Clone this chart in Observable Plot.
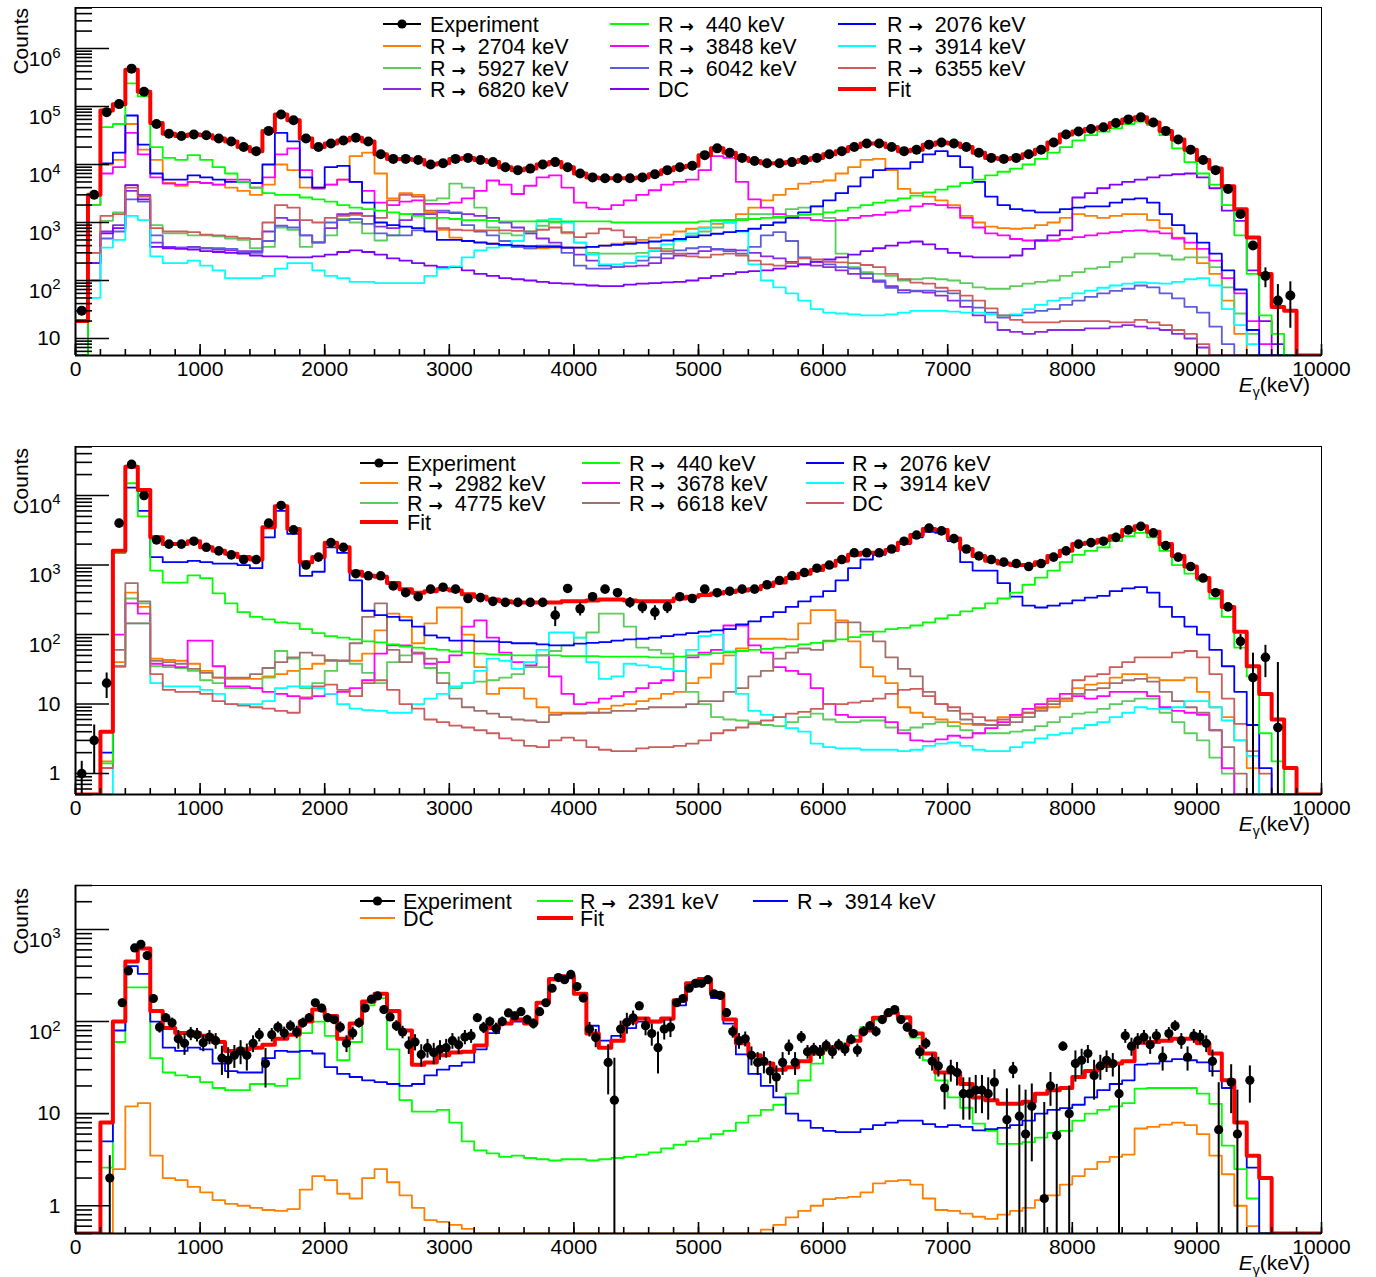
<!DOCTYPE html>
<html><head><meta charset="utf-8">
<script src="https://cdn.jsdelivr.net/npm/d3@7"></script>
<script src="https://cdn.jsdelivr.net/npm/@observablehq/plot@0.6"></script>
<style>
body{margin:0;background:#fff;font-family:"Liberation Sans",Arial,sans-serif;}
#chart svg{display:block}
</style></head><body><div id="chart"></div>
<script>
// ===== DATA (100 keV bins from 0 to 10000 keV unless stated) =====
// ---------- Panel 1 ----------
const p1Exp = [30,3000,80000,110000,450000,180000,50000,34000,31000,33000,
32000,28000,25000,20000,17000,38000,73000,58000,28000,20000,
23000,26000,29000,25000,15000,12500,12500,12000,10000,10500,
12500,13000,12000,11000,9000,8000,8500,10000,11000,9000,
7000,6000,5800,5800,5800,6000,6800,8000,9000,9500,
14500,19000,16000,13000,11500,10500,10500,11000,12000,13000,
15000,17000,20000,23000,23000,20000,17000,18000,22000,24000,
23000,20000,16000,13000,12500,13000,15000,18000,24000,33000,
37000,41000,44000,52000,60000,65000,53000,38000,27000,18000,
12000,8000,3800,1400,400,120,45,55,0,0];
const p1Err = [0,0,0,0,0,0,0,0,0,0, 0,0,0,0,0,0,0,0,0,0, 0,0,0,0,0,0,0,0,0,0, 0,0,0,0,0,0,0,0,0,0,
0,0,0,0,0,0,0,0,0,0, 0,0,0,0,0,0,0,0,0,0, 0,0,0,0,0,0,0,0,0,0, 0,0,0,0,0,0,0,0,0,0,
0,0,0,0,0,0,0,0,0,0, 0,0,0,0,0,45,40,40,0,0];
const p1Fit = [20,3000,85000,110000,430000,180000,52000,34000,31000,33000,
32000,28000,25000,20000,17000,38000,73000,58000,28000,20000,
23000,26000,29000,25000,15000,12500,12500,12000,10000,10500,
12500,13000,12000,11000,9000,8000,8500,10000,11000,9000,
7000,6000,5800,5800,5800,6000,6800,8000,9000,9500,
14500,19000,16000,13000,11500,10500,10500,11000,12000,13000,
15000,17000,20000,23000,23000,20000,17000,18000,22000,24000,
23000,20000,16000,13000,12500,13000,15000,18000,24000,33000,
37000,41000,44000,52000,60000,65000,53000,38000,27000,18000,
12000,8500,4200,1700,550,130,35,30,0,0];
const p1R440 = [0,2000,44000,50000,250000,150000,20000,13000,12000,14500,
12000,9000,7000,5000,4000,3200,3000,3000,2700,2500,
2300,2000,1800,1700,1600,1500,1400,1300,1200,1200,
1150,1100,1100,1070,1050,1050,1050,1050,1050,1050,
1050,1050,1050,1000,1000,1000,1000,1000,1000,1000,
1050,1100,1100,1100,1150,1200,1250,1300,1350,1400,
1500,1600,1800,2000,2200,2400,2600,2900,3300,3700,
4200,4800,5500,6500,7500,8500,10000,12500,16000,20000,
26000,32000,37000,42000,50000,55000,48000,32000,19000,11000,
7000,4500,2000,600,130,25,12,0,0,0];
const p1R2076 = [0,3000,10500,16000,70000,22000,7000,5500,5500,6500,
6000,5500,5000,5000,4800,10000,35000,25000,6000,4000,
9000,9500,5000,2200,1000,900,850,800,700,500,
500,480,450,430,410,400,390,380,380,370,
370,380,400,410,430,450,470,490,520,560,
600,640,680,720,780,900,1000,1200,1500,1900,
2400,3200,4200,6000,8000,8500,8500,11000,15000,17000,
14000,9000,5000,2800,2000,1700,1600,1500,1500,1700,
1800,1900,1900,2200,2500,2600,2200,1400,900,650,
450,290,150,70,14,0,0,0,0,0];
const p1R2704 = [0,3000,10000,12000,50000,18000,12000,4800,4300,5000,
4800,4500,4000,3500,3000,4500,10000,8000,4000,3800,
4500,5500,14000,16000,7000,2600,3200,3000,1500,750,
550,480,460,430,400,380,360,360,370,370,
370,380,400,430,460,500,550,620,700,780,
820,950,1100,1400,1800,2400,3000,3800,4700,5000,
5300,7000,9000,12000,12500,8000,3800,3200,2800,2400,
2000,1300,1000,850,800,780,800,900,1000,1200,
1400,1300,1200,1300,1400,1400,1100,800,550,350,
200,130,45,12,0,0,0,0,0,0];
const p1R3848 = [0,2000,7000,9000,35000,15000,6000,4700,4500,5000,
4800,4500,5500,5500,4000,6000,15000,19000,8000,4000,
4500,5500,5000,3500,2200,2000,2300,2400,2100,2100,
2200,2600,3500,5300,4500,3100,4300,6000,6500,4000,
2200,1800,1700,2000,2400,3000,3600,4500,5000,5500,
8000,14000,13000,5000,2500,1800,1400,1300,1200,1100,
1070,1100,1200,1300,1350,1500,1600,1900,2100,2000,
1800,1200,820,650,600,520,490,490,490,520,
560,600,650,680,720,730,700,650,530,450,
350,220,110,60,20,8,0,0,0,0];
const p1R3914 = [0,50,370,500,1300,1100,260,200,200,220,
180,150,110,110,110,120,160,200,200,150,
120,110,95,95,90,90,90,90,120,160,
175,250,330,370,400,480,700,1100,1150,1000,
450,280,190,190,200,260,330,420,500,650,
800,1050,1000,700,190,100,76,60,45,32,
28,27,26,25,25,26,28,30,30,30,
29,28,28,26,25,26,32,38,45,50,
60,67,75,82,88,93,90,88,95,105,
110,82,32,17,8,0,0,0,0,0];
const p1R5927 = [0,300,1070,1500,4400,3000,900,650,650,600,
600,580,530,500,360,380,820,750,380,450,
600,1150,1000,650,490,600,1400,1400,2400,2600,
4700,4000,1800,820,650,600,650,880,1000,650,
450,300,290,290,290,300,320,350,490,600,
700,820,1000,1150,1400,1400,1200,1700,1800,1900,
1200,290,170,140,130,120,100,105,110,105,
100,90,76,72,72,80,88,95,100,120,
140,160,170,210,250,290,290,270,230,250,
250,170,76,27,12,0,0,0,0,0];
const p1R6042 = [0,100,530,700,2500,2300,600,370,370,370,
360,360,350,310,300,480,880,820,600,460,
1000,1100,1150,950,650,600,600,730,1200,1600,
1500,900,700,600,480,380,360,400,400,300,
180,160,160,170,200,220,250,290,330,360,
380,350,320,290,380,600,680,480,250,210,
190,170,160,130,100,75,62,67,67,65,
60,45,34,28,23,25,28,30,32,38,
45,52,60,66,72,82,76,60,49,35,
28,16,8,0,0,0,0,0,0,0];
const p1R6355 = [0,300,1300,1400,4000,2800,800,700,700,680,
620,600,570,540,520,1000,2000,1800,1100,1000,
1200,1300,1350,1300,1200,2400,3000,2800,1600,800,
750,730,730,730,730,720,700,750,820,680,
560,650,780,730,560,450,360,320,290,260,
250,280,290,270,220,190,180,200,240,230,
210,205,200,185,170,130,105,92,88,75,
67,55,45,33,25,21,19,19,19,20,
20,20,20,19,19,21,19,17,14,12,
8,0,0,0,0,0,0,0,0,0];
const p1R6820 = [0,200,700,900,3500,3000,450,380,370,380,
360,340,330,320,320,700,1200,1100,600,450,
800,1400,1450,1300,850,800,1100,1400,1400,1500,
1450,1400,1300,1200,1000,820,650,530,450,370,
280,220,180,170,175,180,200,240,270,290,
320,340,340,330,300,260,240,210,190,180,
170,150,130,110,95,80,68,65,62,55,
45,35,25,19,14,13,12,13,14,14,
14,15,15,16,17,16,15,14,12,10,
7,0,0,0,0,0,0,0,0,0];
const p1DC = [0,200,650,800,4400,2500,380,360,350,340,
320,310,300,290,270,260,260,250,250,260,
280,310,330,310,280,240,220,200,180,170,
170,150,130,120,110,105,100,95,90,88,
85,82,80,80,85,88,90,93,95,100,
110,120,130,140,145,150,160,175,190,210,
230,250,280,320,360,400,450,470,420,350,
300,260,250,250,250,270,350,490,600,730,
2700,3200,3900,4500,5000,5500,6000,6500,6800,7000,
6000,3900,1600,1070,150,20,8,0,0,0];

// ---------- Panel 2 ----------
const p2Exp = [1,3,20,4000,28000,10000,2300,2000,2000,2200,
1800,1600,1400,1200,1200,4000,7200,3200,1000,1300,
2100,1800,750,700,700,500,400,350,450,480,
450,330,340,300,290,290,290,290,190,460,
235,350,450,400,290,250,210,250,350,330,
450,400,420,450,450,520,600,700,780,900,
1000,1200,1500,1500,1500,1700,2200,2700,3400,3100,
2400,1700,1350,1200,1100,1050,950,1050,1300,1600,
2000,2100,2200,2500,3200,3600,2900,1900,1300,950,
650,400,250,80,24,47,4.6,0,0,0];
const p2Err = [0.5,2,8,0,0,0,0,0,0,0, 0,0,0,0,0,0,0,0,0,0, 0,0,0,0,0,0,0,0,0,0,
0,0,0,0,0,0,0,40,60,60, 50,50,60,60,50,50,50,50,40,0,
0,0,0,0,0,0,0,0,0,0, 0,0,0,0,0,0,0,0,0,0, 0,0,0,0,0,0,0,0,0,0,
0,0,0,0,0,0,0,0,0,0, 0,0,0,20,30,23,35,0,0,0];
const p2Fit = [0,0,4,1600,26000,12000,2500,2000,2000,2200,
1800,1600,1450,1300,1200,3500,7000,3300,1100,1300,
2100,1800,800,700,680,550,450,400,420,450,
430,380,350,320,300,290,290,290,290,300,
300,310,320,320,310,300,300,300,330,350,
370,390,410,430,450,500,560,650,750,850,
980,1150,1400,1500,1500,1650,2100,2700,3300,3200,
2400,1700,1350,1150,1050,1000,1000,1100,1350,1600,
2000,2100,2300,2600,3200,3600,3000,2000,1350,950,
650,420,250,110,35,14,6,1.2,0,0];
const p2R440 = [0,0,1.4,1500,15000,5000,830,560,560,710,
650,390,280,210,180,165,150,145,120,105,
95,90,85,80,77,72,67,65,62,60,
57,55,53,52,51,50,50,50,50,49,
49,49,48,48,48,48,47,47,48,50,
52,54,56,58,60,62,65,68,72,76,
80,85,92,100,110,120,125,135,150,170,
190,215,240,280,330,400,520,660,830,1100,
1400,1600,1800,2200,2600,2900,2500,1600,1000,750,
600,330,180,65,25,3.8,1.5,0,0,0];
const p2R2076 = [0,0,2,1500,13000,6000,1300,1100,1100,1150,
1100,1050,1050,1000,900,2500,6000,2800,700,800,
1800,1500,600,220,190,180,160,130,97,90,
82,82,80,80,78,75,75,72,70,70,
74,76,78,82,85,87,90,95,100,105,
110,115,120,140,155,180,210,250,300,350,
420,600,900,1200,1400,1600,2000,2500,3000,2900,
2200,1100,830,830,550,350,260,245,260,280,
310,340,360,420,460,480,400,250,180,130,
100,60,35,15,5,1.2,0,0,0,0];
const p2R2982 = [0,0,1.5,40,400,250,45,43,42,38,
30,24,23,23,23,25,27,30,32,38,
43,42,42,53,115,200,180,75,145,245,
245,100,34,14,17,17,12,9,7.5,7.5,
7.5,7.5,8.5,9.5,10,11,12,14,15,20,
24,38,50,63,87,87,87,85,145,225,
225,160,80,34,25,20,9,7.5,6.5,6,
5.5,5.2,5,5,6.5,7,7.5,8.5,9,11,
17,19,20,24,27,27,24,22,22,24,
15,9,6.5,3,1.2,0,0,0,0,0];
const p2R3678 = [0,0,1.2,100,280,200,38,36,34,82,
82,35,18,18,17,15,14,13,12,13,
14,15,17,22,53,70,70,53,38,40,
50,130,160,90,55,40,36,50,25,14,
10,10.5,12,13,15,17,20,22,30,47,
55,60,135,135,70,55,34,30,27,17,
10,7,6.5,6.5,6.5,5.5,3.8,3,2.9,3.1,
3.5,3.3,3.8,4.5,5.5,7,8.5,10,12,14,
13,12,13,15,15,15,13,9,8,7.5,
7,4.2,1.2,0,0,0,0,0,0,0];
const p2R3914 = [0,0,0,34,145,145,20,18,18,18,
16,14,10,10,10,11,17,18,18,17,
14,10,8.6,8.2,8,7.5,7.5,10,12,14,
18,20,30,45,42,32,40,60,107,107,
90,40,23,25,38,36,34,32,30,60,
95,100,57,14,8,7,6.5,4.5,4,2.7,
2.4,2.3,2.3,2.2,2.2,2.2,2.1,2.2,2.5,2.7,
2.8,2.5,2.2,2.1,2.1,2.4,2.8,3.2,3.6,3.8,
4.5,5,5.5,6.5,7.5,9,8.5,8.5,9,11,
11,9,5.8,3,1.8,0,0,0,0,0];
const p2R4775 = [0,0,1.2,35,330,280,35,34,33,30,
22,20,17,17,17,24,58,45,17,20,
30,42,38,28,20,40,50,55,33,28,
17,20,21,22,24,27,34,34,58,70,
90,107,200,200,130,65,60,53,30,15,
10,6.5,6,5.8,5.5,5,4.8,5.5,6.5,7.3,
6,5.5,5.5,5.8,5.8,4.6,4.2,4.6,5.2,5.5,
4.8,4.2,3.8,3.8,3.8,4,4.2,4.8,5.5,6.5,
7.3,7.6,8.5,10,11,12,12,7.5,5.5,3.8,
3,1.7,1,0,0,0,0,0,0,0];
const p2R6618 = [0,0,1.2,60,550,300,42,40,38,32,
28,24,24,24,27,33,40,47,55,50,
42,42,75,180,280,60,40,55,45,20,
12,9,8,7.3,6.5,6,5.8,5.5,7,7.3,
7.3,7.5,7.5,8,8,8.5,9,9,9,10,
11,11,15,17,25,30,45,55,63,60,
82,150,150,110,80,47,32,25,15,10,
8,6,5.2,5,5,5.5,6.5,8,10,12,
14,16,17,20,22,23,21,15,11,9,
7.5,4.2,2.4,1,0,0,0,0,0,0];
const p2DC = [0,0,1.2,35,145,145,27,16,15,15,
14,11,10,9.5,9,8.6,8,7.5,12.5,18,
19,16,13,20,22,16,10,8.6,6,5.5,
4.9,4.6,4.2,3.8,3.2,3,2.5,2.4,3,3.3,
3,2.4,2.2,2.1,2.1,2.3,2.4,2.4,2.5,2.7,
3,3.8,4.2,4.6,5.2,5.8,6.5,7.3,7.7,8.5,
10,10,10.5,11,12,14,16,16.5,13,10,
9,7.3,6.5,5.8,6,6.5,7.5,9,11,12,
22,25,27,34,40,47,47,47,55,58,
47,27,12,5.2,2.1,1,0,0,0,0];

// ---------- Panel 3 ----------
// experiment: 50 keV bins
const p3Exp = [0,0,0,0,0,2,0,160,355,630,
690,520,178,87,110,97,65,58,74,72,
59,68,62,40,38,43,48,43,58,72,
35,72,87,75,90,77,97,110,160,140,
110,105,87,58,75,97,140,175,190,135,
112,90,77,56,60,44,52,46,50,52,
62,56,68,70,110,86,100,84,100,124,
115,128,105,95,128,160,230,300,285,325,
240,180,83,67,0,36,14,83,98,110,
148,90,74,52,83,87,160,178,230,260,
260,285,200,192,125,78,62,65,43,36,
37,29,25,36,53,36,68,47,50,47,
55,47,56,50,64,49,78,90,78,105,
125,135,105,87,74,47,58,37,33,19,
30,28,16.5,16.5,18,18,16.5,22,0,8.6,
30,9.4,6,12,0,1.2,20,5.8,54,10,
35,38,45,26,33,38,35,16.5,70,54,
62,68,56,70,41,74,90,62,41,70,
68,58,37,6.7,0,22,6,0,23];
const p3Err = [0,0,0,0,0,1.5,0,15,20,25,
25,25,15,12,12,12,15,15,12,12,
12,12,12,14,14,12,14,14,12,12,
16,12,12,12,12,12,12,12,14,14,
12,12,12,12,12,12,14,14,14,14,
12,12,12,12,12,12,12,12,12,12,
12,12,12,12,12,12,12,12,12,12,
12,12,12,12,12,14,15,15,15,15,
15,15,15,15,0,20,26,18,25,20,
15,20,20,25,20,20,15,15,15,15,
15,15,15,15,12,12,12,12,10,10,
10,8,8,10,10,10,10,8,8,8,
8,8,8,8,8,8,10,10,10,10,
10,10,10,10,8,8,8,8,8,8,
8,8,8,8,8,8,8,8,0,10,
6,11,12,9,0,12,8,15,6,10,
13,12,10,12,10,10,10,17,12,12,
12,12,12,12,12,12,12,12,12,12,
12,12,12,15,0,12,12,0,10];
const p3Fit = [0,0,8,100,450,620,130,85,75,75,
70,60,48,50,52,56,65,72,100,135,
115,65,95,165,200,130,80,34,36,43,
46,47,55,85,95,105,95,160,290,310,
200,74,52,62,98,108,100,108,170,260,
290,200,105,58,43,35,30,32,37,45,
52,55,62,80,110,125,110,74,45,28,
28,21,15,14,12.8,12.8,13.5,16.5,18,19,
25,29,33,35,37,59,60,62,65,65,
58,45,23,8,3.5,2,0,0,0,0];
const p3R2391 = [0,0,2.6,60,235,235,40,28,26,25,
22,19,18,18,21,21,20,24,75,100,
70,38,60,150,180,50,14,10.5,10.5,11,
8,5,4,3.7,3.4,3.5,3.3,3.2,3.1,3.2,
3.2,3.1,3.2,3.3,3.4,3.6,3.8,4.2,4.6,5,
5.4,6,6.5,8,9.5,11,12.5,16.5,23,35,
48,58,70,87,103,122,115,67,38,23,
15,11.6,7.8,6.5,4.7,4.7,4.9,5.5,6.2,6.5,
8.4,10,11,12,13,18.7,19,19,19,19,
16.5,12.8,4.5,2.5,1.2,0,0,0,0,0];
const p3R3914 = [0,0,5,80,400,330,100,52,48,52,
50,35,29,28,28,40,48,47,48,45,
32,27,25,23,22,21,20,21,26,30,
33,36,50,75,95,100,97,160,280,295,
200,90,62,70,85,100,98,105,150,240,
280,180,95,44,27,20,15,10,8.4,7,
6.5,6.3,6.3,6.8,7.5,8,8.4,8.4,7.7,7.2,
7.5,7.2,6.6,6.8,7,7.5,8.4,10,11,11.5,
12.5,15,18,21,23,34,35,37,39,38,
36,29,19,8,2.6,0,0,0,0,0];
const p3DC = [0,0,0,2.5,12,13,3.5,2,1.9,1.6,
1.4,1.15,1.05,1,0.95,0.9,0.88,0.92,1.5,2.1,
1.9,1.35,1.2,2,2.5,1.8,1.3,0.95,0.7,0.67,
0.62,0.56,0.5,0,0,0,0,0,0,0,
0,0,0,0,0,0,0,0,0,0,
0,0,0,0,0.5,0.55,0.62,0.75,0.88,1,
1.18,1.22,1.25,1.4,1.75,1.85,1.9,1.7,1.2,0.9,
0.88,0.82,0.76,0.72,0.8,0.88,0.95,1.15,1.3,1.7,
2.1,2.5,3,3.4,3.6,6.9,7.2,7.6,8,7.5,
6,3.5,2.2,1,0.6,0,0,0,0,0];

// ---------- legends / labels ----------
const ARROW = "R \u2192 ";
const p1Legend = ["Experiment", ARROW+"440 keV", ARROW+"2076 keV", ARROW+"2704 keV", ARROW+"3848 keV", ARROW+"3914 keV",
  ARROW+"5927 keV", ARROW+"6042 keV", ARROW+"6355 keV", ARROW+"6820 keV", "DC", "Fit"];
const p2Legend = ["Experiment", ARROW+"440 keV", ARROW+"2076 keV", ARROW+"2982 keV", ARROW+"3678 keV", ARROW+"3914 keV",
  ARROW+"4775 keV", ARROW+"6618 keV", "DC", "Fit"];
const p3Legend = ["Experiment", ARROW+"2391 keV", ARROW+"3914 keV", "DC", "Fit"];
const xTicks = [0,1000,2000,3000,4000,5000,6000,7000,8000,9000,10000];

// ===== DRAWING =====
const C = {orange:"#ff7f00", lgreen:"#5ccc5c", purple:"#8a2be2", green:"#00ff00", magenta:"#ff00ff",
  slate:"#5c5cdc", violet:"#7f00ff", blue:"#0000ff", cyan:"#00ffff", ired:"#cd5c5c", brown:"#a0706e", red:"#ff0000"};

function stepData(vals, w, lo){
  const d = vals.map((v,i)=>({x:i*w, y:Math.max(v,lo)}));
  d.push({x:vals.length*w, y:Math.max(vals[vals.length-1],lo)});
  return d;
}
function pointData(vals, errs, w, lo){
  return vals.map((v,i)=>({x:i*w+w/2, y:v, e:errs[i], lo:Math.max(v-errs[i], lo), hi:v+errs[i]})).filter(d=>d.y>0);
}
function fmt(d){ const e=Math.round(Math.log10(d)); return e===0?"1":e===1?"10":"10^"+e; }

function panel(cfg){
  const [lo, hi] = cfg.yDomain;
  const decades=[], minor=[];
  for(let e=Math.floor(Math.log10(lo)); e<=Math.ceil(Math.log10(hi)); e++){
    const p=Math.pow(10,e);
    if(p>=lo && p<=hi) decades.push(p);
    for(let m=2;m<=9;m++){ const v=m*p; if(v>=lo && v<=hi) minor.push(v); }
  }
  const marks=[];
  cfg.comps.forEach(c=>marks.push(Plot.line(stepData(c.vals,100,lo),{x:"x",y:"y",curve:"step-after",stroke:c.color,strokeWidth:1.8,clip:true})));
  marks.push(Plot.line(stepData(cfg.fit,100,lo),{x:"x",y:"y",curve:"step-after",stroke:C.red,strokeWidth:4,clip:true}));
  const pts = pointData(cfg.exp, cfg.err, cfg.expBin, lo);
  marks.push(Plot.ruleX(pts.filter(d=>d.e>0),{x:"x",y1:"lo",y2:"hi",stroke:"black",strokeWidth:2,clip:true}));
  marks.push(Plot.dot(pts,{x:"x",y:"y",r:cfg.r,fill:"black"}));
  marks.push(Plot.axisX({ticks:d3.range(0,10001,200),tickSize:-6,tickFormat:()=>"",strokeWidth:1.6}));
  marks.push(Plot.axisX({ticks:xTicks,tickSize:-11,tickFormat:()=>"",strokeWidth:1.6}));
  marks.push(Plot.axisX({ticks:xTicks,tickSize:0,tickPadding:6,tickFormat:"d"}));
  marks.push(Plot.axisY({ticks:minor,tickSize:-17,tickFormat:()=>"",strokeWidth:1.6}));
  marks.push(Plot.axisY({ticks:decades,tickSize:-34,tickFormat:()=>"",strokeWidth:1.6}));
  marks.push(Plot.axisY({ticks:decades,tickSize:0,tickPadding:15,tickFormat:fmt}));
  marks.push(Plot.frame({stroke:"black",strokeWidth:1}));
  marks.push(Plot.ruleX([0],{stroke:"black",strokeWidth:2}));
  marks.push(Plot.ruleY([lo],{stroke:"black",strokeWidth:2}));
  const svg = Plot.plot({
    width:1376, height:cfg.height, marginLeft:75, marginRight:55, marginTop:cfg.mt, marginBottom:cfg.mb,
    x:{domain:[0,10000], label:null}, y:{type:"log", domain:[lo,hi], label:null},
    style:{fontFamily:"'Liberation Sans', Arial, sans-serif", fontSize:"21px", color:"black", background:"white"},
    marks
  });
  const s = d3.select(svg);
  s.selectAll('g[aria-label="y-axis tick label"] text').each(function(){
    const t=d3.select(this); const str=t.text();
    if(str.includes("^")){ const [b,e]=str.split("^"); t.text(b).attr("dy","0.5em"); t.append("tspan").attr("dy","-0.55em").attr("font-size","15px").text(e); }
  });
  // y title
  s.append("text").attr("transform","translate(28,8) rotate(-90)").attr("text-anchor","end")
    .attr("font-size",21).attr("fill","black").text("Counts");
  // x title
  const xt = s.append("text").attr("x",1310).attr("y",cfg.mt+348+37).attr("text-anchor","end").attr("font-size",21).attr("fill","black");
  xt.append("tspan").attr("font-style","italic").text("E");
  xt.append("tspan").attr("font-size",14).attr("dy",5).text("\u03b3");
  xt.append("tspan").attr("dy",-5).text("(keV)");
  // legend
  cfg.legend.forEach((e,i)=>{
    const c=i%3, r=Math.floor(i/3);
    const [x1,x2]=cfg.L.lineX[c], y=cfg.L.rowY[r];
    s.append("line").attr("x1",x1).attr("x2",x2).attr("y1",y).attr("y2",y)
      .attr("stroke",e.color).attr("stroke-width",e.kind==="fit"?4:2);
    if(e.kind==="exp") s.append("circle").attr("cx",(x1+x2)/2).attr("cy",y).attr("r",4.6).attr("fill","black");
    const t = s.append("text").attr("x",cfg.L.textX[c]).attr("y",y).attr("dy","0.36em").attr("font-size",21.5)
      .attr("text-anchor","start").attr("xml:space","preserve").style("white-space","pre").attr("fill","black");
    const parts = e.label.split("\u2192");
    if(parts.length===2){
      t.append("tspan").text(parts[0]);
      t.append("tspan").attr("font-family","'DejaVu Sans', sans-serif").attr("font-weight","bold").attr("font-size",17).text("\u2192");
      t.append("tspan").text("  " + parts[1].trim());
    } else t.text(e.label);
  });
  document.getElementById("chart").appendChild(svg);
}

function leg(labels, colors){
  return labels.map((l,i)=>({label:l, color:colors[i], kind: l==="Experiment"?"exp":(l==="Fit"?"fit":"line")}));
}

panel({height:440, mt:7, mb:85, yDomain:[5.09,5.1e6], exp:p1Exp, err:p1Err, expBin:100, fit:p1Fit, r:5,
  comps:[
    {vals:p1R2704,color:C.orange},{vals:p1R5927,color:C.lgreen},{vals:p1R6820,color:C.purple},
    {vals:p1R3848,color:C.magenta},{vals:p1R6042,color:C.slate},{vals:p1DC,color:C.violet},
    {vals:p1R3914,color:C.cyan},{vals:p1R6355,color:C.ired},{vals:p1R2076,color:C.blue},{vals:p1R440,color:C.green}],
  legend: leg(p1Legend, ["black",C.green,C.blue,C.orange,C.magenta,C.cyan,C.lgreen,C.slate,C.ired,C.purple,C.violet,C.red]),
  L:{lineX:[[383,421],[610,649],[838,876]], textX:[430,658,887], rowY:[24,46,68,89]}
});
panel({height:440, mt:6, mb:86, yDomain:[0.5,5.07e4], exp:p2Exp, err:p2Err, expBin:100, fit:p2Fit, r:4.8,
  comps:[
    {vals:p2R2982,color:C.orange},{vals:p2R4775,color:C.lgreen},{vals:p2R3678,color:C.magenta},
    {vals:p2R6618,color:C.brown},{vals:p2R3914,color:C.cyan},{vals:p2DC,color:C.ired},
    {vals:p2R2076,color:C.blue},{vals:p2R440,color:C.green}],
  legend: leg(p2Legend, ["black",C.green,C.blue,C.orange,C.magenta,C.cyan,C.lgreen,C.brown,C.ired,C.red]),
  L:{lineX:[[360,398],[582,620],[806,844]], textX:[407,629,852], rowY:[23,43,63,82]}
});
panel({height:397, mt:5, mb:44, yDomain:[0.5,3000], exp:p3Exp, err:p3Err, expBin:50, fit:p3Fit, r:4.6,
  comps:[{vals:p3DC,color:C.orange},{vals:p3R2391,color:C.green},{vals:p3R3914,color:C.blue}],
  legend: leg(p3Legend, ["black",C.green,C.blue,C.orange,C.red]),
  L:{lineX:[[360,395],[537,573],[753,788]], textX:[403,580,797], rowY:[21,38]}
});
</script></body></html>
